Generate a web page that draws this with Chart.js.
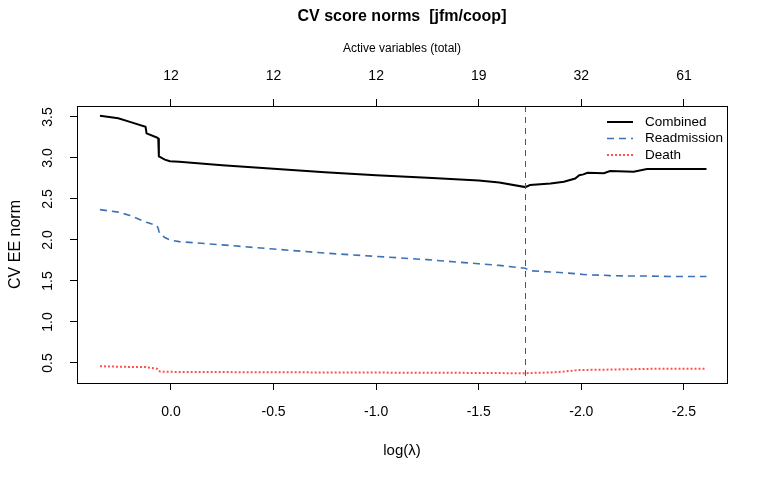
<!DOCTYPE html>
<html>
<head>
<meta charset="utf-8">
<script src="https://cdn.jsdelivr.net/npm/chart.js@4"></script>
<style>
  html, body { margin: 0; padding: 0; background: #fff; }
  #wrap { width: 768px; height: 480px; }
</style>
</head>
<body>
<div id="wrap"><canvas id="cvChart"></canvas></div>
<script>
// log(lambda) path, shared by all three curves
const logLambda = [0.346, 0.257, 0.20, 0.124, 0.119, 0.069, 0.062, 0.059, 0.052, 0.030, 0.005, -0.04,
    -0.25, -0.5, -0.75, -1.0, -1.25, -1.5, -1.6, -1.727, -1.75, -1.85, -1.915, -1.97, -1.99, -2.01,
    -2.03, -2.11, -2.14, -2.255, -2.32, -2.45, -2.61];
const combined = [3.516, 3.484, 3.44, 3.38, 3.30, 3.25, 3.24, 3.02, 3.01, 2.98, 2.96, 2.955,
    2.91, 2.87, 2.825, 2.79, 2.76, 2.725, 2.70, 2.645, 2.67, 2.69, 2.71, 2.75, 2.79, 2.80,
    2.82, 2.815, 2.84, 2.833, 2.866, 2.866, 2.866];
const readmission = [2.37, 2.34, 2.30, 2.22, 2.215, 2.175, 2.14, 2.107, 2.067, 2.03, 2.00, 1.98,
    1.94, 1.89, 1.84, 1.80, 1.76, 1.71, 1.69, 1.655, 1.625, 1.61, 1.60, 1.59, 1.585, 1.58,
    1.575, 1.57, 1.565, 1.56, 1.56, 1.555, 1.555];
const death = [0.46, 0.455, 0.452, 0.45, 0.448, 0.43, 0.42, 0.405, 0.395, 0.393, 0.392, 0.391,
    0.389, 0.387, 0.385, 0.383, 0.381, 0.379, 0.377, 0.374, 0.378, 0.385, 0.395, 0.41, 0.414, 0.415,
    0.416, 0.418, 0.42, 0.425, 0.428, 0.43, 0.43];

const xTicks = [0.0, -0.5, -1.0, -1.5, -2.0, -2.5];
const topTickLabels = ['12', '12', '12', '19', '32', '61'];
const yTicks = [0.5, 1.0, 1.5, 2.0, 2.5, 3.0, 3.5];
const cvMinLambda = -1.727;

const seriesNames = ['Combined', 'Readmission', 'Death'];
const mainTitle = 'CV score norms  [jfm/coop]';
const FONT = '"Liberation Sans", Arial, Helvetica, sans-serif';

function toPoints(ys) {
    return logLambda.map((x, i) => ({ x: x, y: ys[i] }));
}

// Box, rotated y labels, cv-min line, legend and title (R base-graphics look)
const rStyle = {
    id: 'rStyle',
    afterDatasetsDraw(chart) {
        const { ctx, chartArea: a, scales: { x, y } } = chart;
        ctx.save();

        // dashed line at the CV minimum
        const vx = Math.round(x.getPixelForValue(cvMinLambda)) + 0.5;
        ctx.strokeStyle = '#555';
        ctx.lineWidth = 1;
        ctx.setLineDash([6, 5]);
        ctx.beginPath();
        ctx.moveTo(vx, a.top);
        ctx.lineTo(vx, a.bottom);
        ctx.stroke();
        ctx.setLineDash([]);

        // plot box
        ctx.strokeStyle = '#000';
        ctx.strokeRect(Math.round(a.left) + 0.5, Math.round(a.top) + 0.5,
            Math.round(a.right - a.left), Math.round(a.bottom - a.top));

        // y tick labels, vertical like R
        ctx.fillStyle = '#000';
        ctx.font = '14px ' + FONT;
        ctx.textAlign = 'center';
        ctx.textBaseline = 'middle';
        yTicks.forEach(v => {
            ctx.save();
            ctx.translate(48, y.getPixelForValue(v));
            ctx.rotate(-Math.PI / 2);
            ctx.fillText(v.toFixed(1), 0, 0);
            ctx.restore();
        });

        // legend
        ctx.font = '13.5px ' + FONT;
        ctx.textAlign = 'left';
        chart.data.datasets.forEach((ds, i) => {
            const ly = 122 + i * 16.5;
            ctx.strokeStyle = ds.borderColor;
            ctx.lineWidth = ds.borderWidth;
            ctx.setLineDash(ds.borderDash || []);
            ctx.beginPath();
            ctx.moveTo(607, ly);
            ctx.lineTo(633, ly);
            ctx.stroke();
            ctx.setLineDash([]);
            ctx.fillText(ds.label, 645, ly);
        });

        // main title
        ctx.font = 'bold 16px ' + FONT;
        ctx.textAlign = 'center';
        ctx.fillText(mainTitle, (a.left + a.right) / 2, 17);

        ctx.restore();
    }
};

const axisGrid = { display: true, drawOnChartArea: false, drawTicks: true, tickLength: 7, color: '#000', lineWidth: 1 };

new Chart(document.getElementById('cvChart'), {
    type: 'line',
    data: {
        datasets: [{
            label: seriesNames[0],
            data: toPoints(combined),
            borderColor: '#000000',
            borderWidth: 2
        }, {
            label: seriesNames[1],
            data: toPoints(readmission),
            borderColor: '#3d72b4',
            borderWidth: 1.6,
            borderDash: [7, 5]
        }, {
            label: seriesNames[2],
            data: toPoints(death),
            borderColor: '#ff4f4f',
            borderWidth: 2,
            borderDash: [2, 2]
        }]
    },
    options: {
        responsive: true,
        maintainAspectRatio: false,
        animation: false,
        layout: { padding: { left: 0, right: 41, top: 0, bottom: 0 } },
        elements: { point: { radius: 0 }, line: { tension: 0, fill: false } },
        plugins: {
            legend: { display: false },
            title: { display: false },
            tooltip: { enabled: false }
        },
        scales: {
            x: {
                type: 'linear',
                position: 'bottom',
                reverse: true,
                min: -2.710,
                max: 0.458,
                afterBuildTicks: (s) => { s.ticks = xTicks.map(v => ({ value: v })); },
                afterFit: (s) => { s.height = 97; },
                grid: axisGrid,
                border: { display: false },
                ticks: {
                    color: '#000',
                    font: { family: FONT, size: 14 },
                    padding: 14,
                    maxRotation: 0,
                    autoSkip: false,
                    callback: (v) => v.toFixed(1)
                },
                title: {
                    display: true,
                    text: 'log(λ)',
                    color: '#000',
                    font: { family: FONT, size: 15 },
                    padding: { top: 0, bottom: 20 }
                }
            },
            x2: {
                type: 'linear',
                position: 'top',
                reverse: true,
                min: -2.710,
                max: 0.458,
                afterBuildTicks: (s) => { s.ticks = xTicks.map(v => ({ value: v })); },
                afterFit: (s) => { s.height = 106; },
                grid: axisGrid,
                border: { display: false },
                ticks: {
                    color: '#000',
                    font: { family: FONT, size: 14 },
                    padding: 14,
                    maxRotation: 0,
                    autoSkip: false,
                    callback: (v) => topTickLabels[xTicks.indexOf(v)]
                },
                title: {
                    display: true,
                    text: 'Active variables (total)',
                    color: '#000',
                    font: { family: FONT, size: 12 },
                    padding: { top: 41, bottom: 0 }
                }
            },
            y: {
                type: 'linear',
                position: 'left',
                min: 0.256,
                max: 3.634,
                afterBuildTicks: (s) => { s.ticks = yTicks.map(v => ({ value: v })); },
                afterFit: (s) => { s.width = 77; },
                grid: axisGrid,
                border: { display: false },
                ticks: { display: false },
                title: {
                    display: true,
                    text: 'CV EE norm',
                    color: '#000',
                    font: { family: FONT, size: 16 },
                    padding: { top: 6, bottom: 0 }
                }
            }
        }
    },
    plugins: [rStyle]
});
</script>
</body>
</html>
